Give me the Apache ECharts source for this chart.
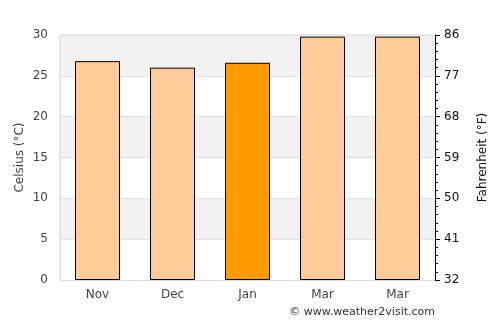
<!DOCTYPE html>
<html><head><meta charset="utf-8">
<script src="https://cdn.jsdelivr.net/npm/echarts@6/dist/echarts.min.js"></script>
<style>html,body{margin:0;padding:0;background:#fff}#c{width:500px;height:325px}</style>
</head><body><div id="c"></div>
<script>
const categories = ['Nov', 'Dec', 'Jan', 'Mar', 'Mar'];
const celsius = [26.8, 26.0, 26.6, 29.8, 29.8];
const highlightIndex = 2;
const celsiusTicks = [0, 5, 10, 15, 20, 25, 30];
const fahrenheitTicks = [32, 41, 50, 59, 68, 77, 86];

const chart = echarts.init(document.getElementById('c'));
const font = 'DejaVu Sans';
chart.setOption({
  animation: false,
  grid: { left: 60, right: 65, top: 35, bottom: 45, show: true, borderColor: '#dddddd', borderWidth: 1, backgroundColor: 'transparent' },
  xAxis: {
    type: 'category', data: categories,
    axisLine: { show: true, lineStyle: { color: '#dddddd' } },
    axisTick: { show: false },
    axisLabel: { color: '#444', fontFamily: font, fontSize: 12, margin: 9 }
  },
  yAxis: [{
    type: 'value', min: celsiusTicks[0], max: celsiusTicks[celsiusTicks.length-1], interval: 5,
    name: 'Celsius (°C)', nameLocation: 'middle', nameGap: 34, nameMoveOverlap: false,
    nameTextStyle: { color: '#444', fontFamily: font, fontSize: 12 },
    axisLine: { show: true, lineStyle: { color: '#dddddd' } },
    axisTick: { show: false },
    axisLabel: { color: '#444', fontFamily: font, fontSize: 12, margin: 12 },
    splitLine: { show: true, lineStyle: { color: '#e0e0e0' } },
    splitArea: { show: true, areaStyle: { color: ['#ffffff', '#f2f2f2'] } }
  }, {
    type: 'value', min: fahrenheitTicks[0], max: fahrenheitTicks[fahrenheitTicks.length-1], interval: 9,
    position: 'right',
    name: 'Fahrenheit (°F)', nameLocation: 'middle', nameGap: 42, nameMoveOverlap: false,
    nameRotate: 90,
    nameTextStyle: { color: '#111', fontFamily: font, fontSize: 12 },
    axisLine: { show: true, lineStyle: { color: '#000', width: 1 } },
    axisTick: { show: true, length: 5, lineStyle: { color: '#000' } },
    minorTick: { show: true, splitNumber: 5, length: 3, lineStyle: { color: '#000' } },
    axisLabel: { color: '#111', fontFamily: font, fontSize: 12, margin: 9 },
    splitLine: { show: false }
  }],
  series: [{
    type: 'bar', yAxisIndex: 0, barWidth: '60%',
    data: celsius.map((v, i) => ({
      value: v,
      itemStyle: { color: i === highlightIndex ? '#ff9a00' : '#ffcc99', borderColor: '#000', borderWidth: 1 }
    }))
  }],
  graphic: [{
    type: 'text', right: 65, top: 307,
    style: { text: '© www.weather2visit.com', fill: '#333', font: '11px "DejaVu Sans"' }
  }]
});
</script></body></html>
